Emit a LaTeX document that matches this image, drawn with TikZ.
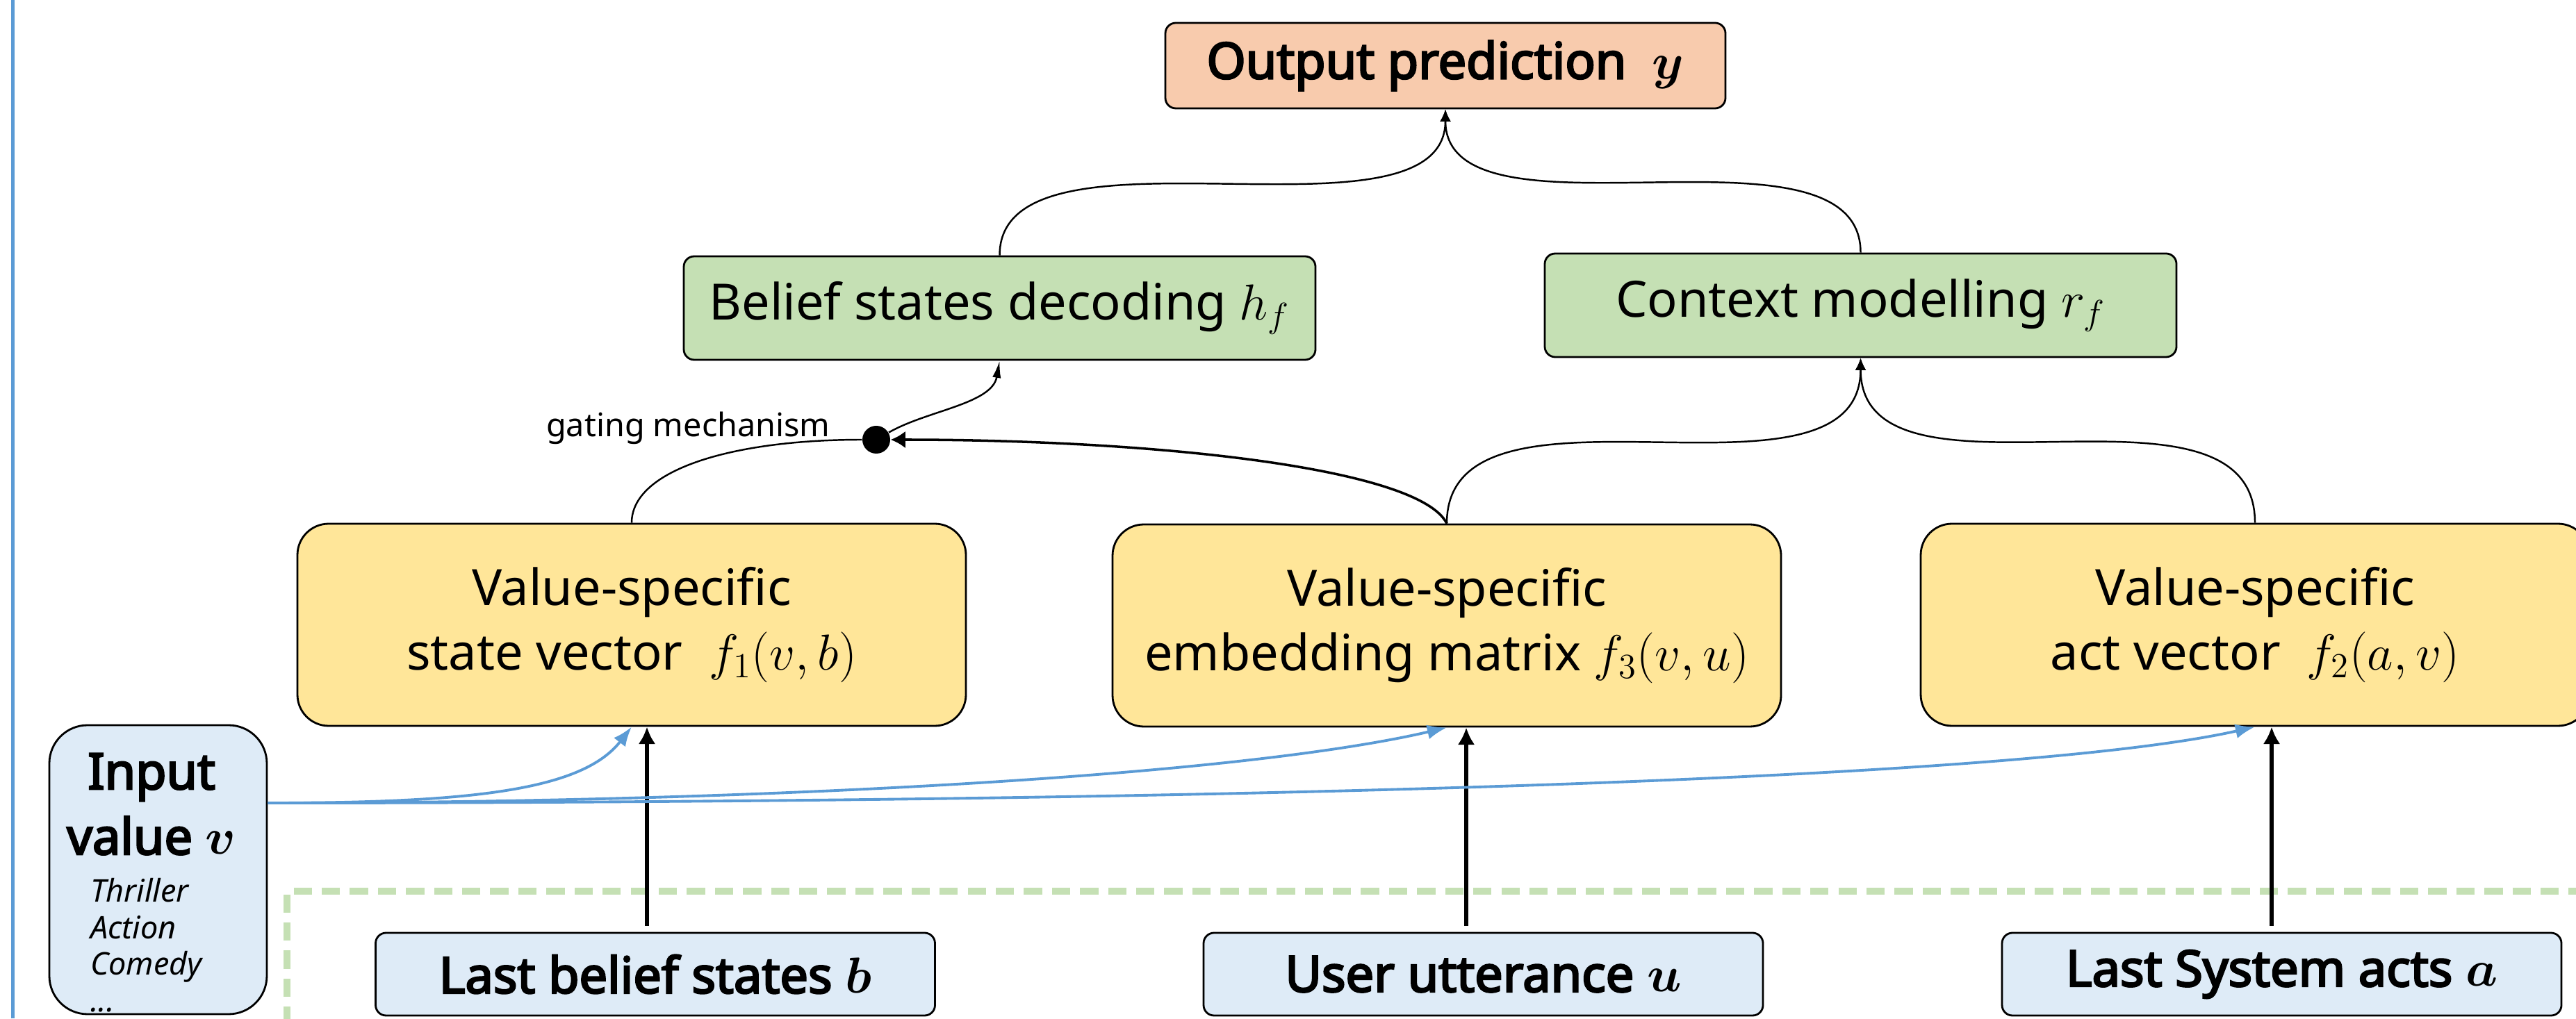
\documentclass[tikz,border=0pt]{standalone}
\usepackage{amsmath}
\usepackage{fontspec}
\setmainfont{Noto Sans}[AutoFakeBold=3.6]
\usetikzlibrary{arrows.meta,positioning}

\definecolor{peach}{HTML}{F8CBAD}
\definecolor{leaf}{HTML}{C5E0B4}
\definecolor{butter}{HTML}{FFE699}
\definecolor{sky}{HTML}{DEEBF7}
\definecolor{skyline}{HTML}{5B9BD5}

\newcommand{\gatefont}{\fontsize{13.3}{16}\selectfont}
\newcommand{\genrefont}{\fontsize{12.8}{15}\selectfont\mdseries\itshape}

\tikzset{
    box/.style={draw, line width=0.8pt, align=center, inner sep=0pt},
    outbox/.style={box, fill=peach, rounded corners=0.15cm, minimum width=8.06cm, minimum height=1.23cm, font=\bfseries},
    decbox/.style={box, fill=leaf, rounded corners=0.15cm, minimum width=9.09cm, minimum height=1.49cm},
    valbox/.style={box, fill=butter, rounded corners=0.45cm, minimum width=9.62cm, minimum height=2.91cm},
    inbox/.style={box, fill=sky, rounded corners=0.55cm, minimum width=3.13cm, minimum height=4.16cm},
    srcbox/.style={box, fill=sky, rounded corners=0.15cm, minimum width=8.05cm, minimum height=1.19cm, font=\bfseries},
    gatedot/.style={circle, fill=black, inner sep=0pt, minimum size=0.4cm},
    merge/.style={-{Latex[length=5pt,width=4.5pt]}, line width=0.7pt},
    uparrow/.style={-{Latex[length=7pt,width=7pt]}, line width=1.5pt},
    feed/.style={-{Latex[length=8pt,width=6pt]}, line width=1.1pt, draw=skyline},
}

\begin{document}
\fontsize{20.5}{26.7}\selectfont
\begin{tikzpicture}
    \clip (0,0) rectangle (37.07,14.66);
    % frame
    \draw[skyline, line width=1.4pt] (0.185,0) -- (0.185,14.66);
    \draw[leaf, line width=2.6pt, dash pattern=on 7.5pt off 4pt] (4.13,-0.5) |- (38,1.83);

    \node[outbox] (out) at (20.80,13.715) {Output prediction \ $\boldsymbol{y}$};
    \node[decbox] (hdec) at (14.385,10.225) {Belief states decoding $h_f$};
    \node[decbox] (ctx) at (26.775,10.265) {Context modelling $r_f$};
    \node[valbox] (sv) at (9.09,5.665) {Value-specific\\state vector \ $f_1(v,b)$};
    \node[valbox] (em) at (20.82,5.655) {Value-specific\\embedding matrix $f_3(v,u)$};
    \node[valbox] (av) at (32.45,5.665) {Value-specific\\act vector \ $f_2(a,v)$};
    \node[gatedot] (gate) at (12.61,8.33) {};
    \node[left=0.45cm of gate, yshift=0.17cm, inner sep=0pt, font=\gatefont] (gatelbl) {gating mechanism};

    \node[inbox] (iv) at (2.275,2.14)
    {
        \begin{minipage}{2.9cm}
            \vspace*{0.38cm}
            \centering\bfseries Input\\ value $\boldsymbol{v}$\par\vspace{4.5pt}
            \genrefont\raggedright\leftskip=0.57cm Thriller\\ Action\\ Comedy\\ ...\par
        \end{minipage}
    };
    \node[srcbox] (lbs) at (9.43,0.635) {Last belief states $\boldsymbol{b}$};
    \node[srcbox] (uu) at (21.345,0.635) {User utterance $\boldsymbol{u}$};
    \node[srcbox] (lsa) at (32.835,0.635) {Last System acts $\boldsymbol{a}$};

    % merging into the upper boxes
    \draw[merge] (hdec.north) .. controls (hdec.north |- out.south) and (out.south |- hdec.north) .. (out.south);
    \draw[merge] (ctx.north) .. controls (ctx.north |- out.south) and (out.south |- ctx.north) .. (out.south);
    \draw[merge] (em.north) .. controls (em.north |- ctx.south) and (ctx.south |- em.north) .. (ctx.south);
    \draw[merge] (av.north) .. controls (av.north |- ctx.south) and (ctx.south |- av.north) .. (ctx.south);

    % gating
    \draw[line width=0.7pt] (sv.north) .. controls +(0,0.75) and +(-1.9,0) .. (gate.west);
    \draw[-{Latex[length=6pt,width=7pt]}, line width=1pt] (em.north) .. controls +(-0.4,0.8) and +(3.8,0) .. (gate.east);
    \draw[-{Latex[length=7pt,width=3.5pt]}, line width=0.7pt] (gate) to[out=30,in=-100,looseness=0.85] (hdec.south);

    % inputs
    \draw[uparrow] ([xshift=-0.12cm,yshift=0.09cm]lbs.north) -- ([xshift=-0.12cm]lbs.north |- sv.south);
    \draw[uparrow] ([xshift=-0.245cm,yshift=0.09cm]uu.north) -- ([xshift=-0.245cm]uu.north |- em.south);
    \draw[uparrow] ([xshift=-0.145cm,yshift=0.09cm]lsa.north) -- ([xshift=-0.145cm]lsa.north |- av.south);

    \coordinate (ivout) at ([yshift=0.96cm]iv.east);
    \draw[feed] (ivout) .. controls +(3,0) and +(-0.7,-0.9) .. (sv.south);
    \draw[feed] (ivout) .. controls +(7,0) and +(-3,-0.7) .. (em.south);
    \draw[feed] (ivout) .. controls +(10,0) and +(-4,-0.9) .. (av.south);
\end{tikzpicture}
\end{document}
